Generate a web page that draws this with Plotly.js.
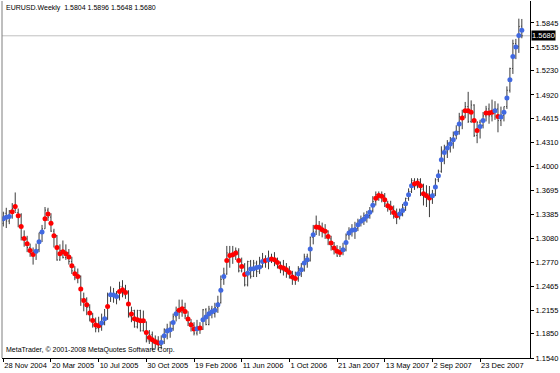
<!DOCTYPE html>
<html><head><meta charset="utf-8">
<script src="https://cdn.plot.ly/plotly-3.0.1.min.js"></script>
<style>html,body{margin:0;padding:0;background:#fff;}#chart{width:560px;height:373px;}</style>
</head><body><div id="chart"></div>
<script>
const symbol = "EURUSD.Weekly";
const copyright = "MetaTrader, \u00a9 2001-2008 MetaQuotes Software Corp.";
const firstWeekUTC = [2004, 10, 28]; // 28 Nov 2004, one bar per week

const opens = [
1.3270,1.3400,1.3300,1.3430,1.3460,1.3410,1.3380,1.3090,1.3070,1.2960,
1.2880,1.2900,1.2930,1.3150,1.3200,1.3440,1.3350,1.3170,1.3110,1.2800,
1.2920,1.2830,1.2890,1.2780,1.2660,1.2570,1.2590,1.2300,1.2300,1.2190,
1.2040,1.2000,1.1920,1.1960,1.2000,1.2050,1.2350,1.2340,1.2370,1.2320,
1.2460,1.2350,1.2400,1.2070,1.2150,1.1940,1.2150,1.1890,1.2000,1.1760,
1.1840,1.1740,1.1770,1.1700,1.1750,1.1910,1.1880,1.1920,1.2070,1.2150,
1.2130,1.2190,1.2080,1.1990,1.1960,1.1860,1.1940,1.1910,1.2160,1.1970,
1.2170,1.2110,1.2190,1.2250,1.2550,1.2620,1.2890,1.2860,1.2880,1.2920,
1.2660,1.2740,1.2480,1.2780,1.2590,1.2760,1.2650,1.2720,1.2810,1.2800,
1.2810,1.2800,1.2790,1.2760,1.2670,1.2710,1.2660,1.2620,1.2560,1.2560,
1.2690,1.2670,1.2840,1.2790,1.3090,1.3160,1.3240,1.3220,1.3160,1.3170,
1.3070,1.2970,1.2940,1.2850,1.2920,1.2930,1.3120,1.3180,1.3180,1.3210,
1.3300,1.3330,1.3370,1.3370,1.3430,1.3550,1.3640,1.3630,1.3620,1.3530,
1.3480,1.3450,1.3360,1.3390,1.3390,1.3470,1.3590,1.3680,1.3820,1.3750,
1.3830,1.3710,1.3610,1.3650,1.3630,1.3650,1.3830,1.3940,1.4210,1.4200,
1.4300,1.4300,1.4400,1.4450,1.4640,1.4650,1.4770,1.4580,1.4790,1.4400,
1.4570,1.4530,1.4650,1.4740,1.4650,1.4690,1.4740,1.4590,1.4660,1.4770,
1.4980,1.5260,1.5580,1.5540,1.5804];
const highs = [
1.3420,1.3470,1.3440,1.3530,1.3667,1.3460,1.3400,1.3180,1.3110,1.3010,
1.2960,1.3010,1.3150,1.3250,1.3480,1.3470,1.3400,1.3200,1.3120,1.3000,
1.3050,1.3000,1.2940,1.2840,1.2720,1.2690,1.2600,1.2380,1.2320,1.2230,
1.2120,1.2060,1.2070,1.2110,1.2170,1.2380,1.2460,1.2440,1.2400,1.2520,
1.2540,1.2480,1.2410,1.2200,1.2160,1.2160,1.2160,1.2150,1.2010,1.1900,
1.1880,1.1830,1.1820,1.1830,1.1920,1.1980,1.2010,1.2110,1.2200,1.2290,
1.2290,1.2250,1.2140,1.2040,1.2000,1.2030,1.2000,1.2170,1.2180,1.2210,
1.2210,1.2250,1.2340,1.2600,1.2700,1.2980,1.2980,1.2980,1.2960,1.2950,
1.2830,1.2760,1.2790,1.2800,1.2800,1.2790,1.2840,1.2890,1.2860,1.2920,
1.2880,1.2900,1.2830,1.2780,1.2800,1.2760,1.2720,1.2660,1.2650,1.2720,
1.2760,1.2880,1.2880,1.3100,1.3250,1.3370,1.3300,1.3280,1.3260,1.3180,
1.3110,1.3030,1.2990,1.2980,1.3020,1.3140,1.3220,1.3260,1.3290,1.3330,
1.3370,1.3410,1.3430,1.3480,1.3620,1.3680,1.3680,1.3680,1.3660,1.3560,
1.3560,1.3500,1.3460,1.3460,1.3520,1.3600,1.3720,1.3850,1.3850,1.3850,
1.3850,1.3780,1.3760,1.3750,1.3700,1.3850,1.3960,1.4260,1.4280,1.4340,
1.4380,1.4450,1.4530,1.4690,1.4730,1.4830,1.4960,1.4850,1.4800,1.4580,
1.4600,1.4700,1.4780,1.4810,1.4860,1.4840,1.4810,1.4770,1.4770,1.5030,
1.5270,1.5630,1.5640,1.5900,1.5896];
const lows = [
1.3230,1.3210,1.3260,1.3330,1.3420,1.3220,1.3050,1.2970,1.2900,1.2840,
1.2740,1.2800,1.2900,1.3030,1.3200,1.3300,1.3160,1.2960,1.2790,1.2790,
1.2820,1.2800,1.2740,1.2620,1.2540,1.2500,1.2210,1.2140,1.2090,1.2010,
1.1930,1.1870,1.1870,1.1890,1.1960,1.2030,1.2260,1.2250,1.2230,1.2280,
1.2320,1.2300,1.2060,1.2000,1.1930,1.1920,1.1880,1.1880,1.1740,1.1720,
1.1640,1.1660,1.1640,1.1650,1.1720,1.1780,1.1800,1.1890,1.2010,1.2040,
1.2070,1.2040,1.1950,1.1880,1.1830,1.1830,1.1850,1.1900,1.1960,1.1960,
1.2050,1.2060,1.2120,1.2240,1.2480,1.2610,1.2700,1.2750,1.2800,1.2640,
1.2640,1.2460,1.2460,1.2560,1.2580,1.2580,1.2620,1.2700,1.2700,1.2680,
1.2760,1.2720,1.2690,1.2630,1.2600,1.2570,1.2560,1.2480,1.2480,1.2520,
1.2580,1.2650,1.2700,1.2780,1.3000,1.3120,1.3110,1.3090,1.3070,1.2990,
1.2920,1.2870,1.2840,1.2840,1.2860,1.2910,1.3060,1.3100,1.3070,1.3170,
1.3230,1.3250,1.3280,1.3330,1.3410,1.3500,1.3560,1.3540,1.3480,1.3420,
1.3380,1.3330,1.3260,1.3320,1.3360,1.3430,1.3560,1.3660,1.3700,1.3720,
1.3620,1.3500,1.3480,1.3350,1.3520,1.3620,1.3800,1.3920,1.4030,1.4110,
1.4180,1.4230,1.4350,1.4410,1.4480,1.4620,1.4560,1.4560,1.4380,1.4300,
1.4360,1.4490,1.4580,1.4550,1.4580,1.4600,1.4440,1.4520,1.4580,1.4740,
1.4950,1.5190,1.5380,1.5460,1.5648];
const closes = [
1.3400,1.3300,1.3430,1.3460,1.3410,1.3380,1.3090,1.3070,1.2960,1.2880,
1.2900,1.2930,1.3150,1.3200,1.3440,1.3350,1.3170,1.3110,1.2800,1.2920,
1.2830,1.2890,1.2780,1.2660,1.2570,1.2590,1.2300,1.2300,1.2190,1.2040,
1.2000,1.1920,1.1960,1.2000,1.2050,1.2350,1.2340,1.2370,1.2320,1.2460,
1.2350,1.2400,1.2070,1.2150,1.1940,1.2150,1.1890,1.2000,1.1760,1.1840,
1.1740,1.1770,1.1700,1.1750,1.1910,1.1880,1.1920,1.2070,1.2150,1.2130,
1.2190,1.2080,1.1990,1.1960,1.1860,1.1940,1.1910,1.2160,1.1970,1.2170,
1.2110,1.2190,1.2250,1.2550,1.2620,1.2890,1.2860,1.2880,1.2920,1.2660,
1.2740,1.2480,1.2780,1.2590,1.2760,1.2650,1.2720,1.2810,1.2800,1.2810,
1.2800,1.2790,1.2760,1.2670,1.2710,1.2660,1.2620,1.2560,1.2560,1.2690,
1.2670,1.2840,1.2790,1.3090,1.3160,1.3240,1.3220,1.3160,1.3170,1.3070,
1.2970,1.2940,1.2850,1.2920,1.2930,1.3120,1.3180,1.3180,1.3210,1.3300,
1.3330,1.3370,1.3370,1.3430,1.3550,1.3640,1.3630,1.3620,1.3530,1.3480,
1.3450,1.3360,1.3390,1.3390,1.3470,1.3590,1.3680,1.3820,1.3750,1.3830,
1.3710,1.3610,1.3650,1.3630,1.3650,1.3830,1.3940,1.4210,1.4200,1.4300,
1.4300,1.4400,1.4450,1.4640,1.4650,1.4770,1.4580,1.4790,1.4400,1.4570,
1.4530,1.4650,1.4740,1.4650,1.4690,1.4740,1.4590,1.4660,1.4770,1.4980,
1.5260,1.5580,1.5540,1.5800,1.5680];
// indicator dots (smoothed Heiken-Ashi style value) and their colour state
const dotValues = [
1.3330,1.3347,1.3359,1.3420,1.3488,1.3368,1.3231,1.3077,1.3009,1.2922,
1.2871,1.2910,1.3034,1.3159,1.3330,1.3390,1.3270,1.3111,1.2961,1.2880,
1.2906,1.2880,1.2838,1.2726,1.2623,1.2588,1.2427,1.2280,1.2225,1.2118,
1.2023,1.1964,1.1955,1.1990,1.2045,1.2203,1.2353,1.2349,1.2331,1.2396,
1.2418,1.2383,1.2234,1.2105,1.2045,1.2032,1.2019,1.2019,1.1869,1.1805,
1.1775,1.1749,1.1733,1.1740,1.1826,1.1887,1.1903,1.1997,1.2109,1.2152,
1.2173,1.2139,1.2041,1.1968,1.1912,1.1916,1.1925,1.2032,1.2067,1.2109,
1.2135,1.2152,1.2225,1.2409,1.2588,1.2794,1.2858,1.2867,1.2889,1.2794,
1.2717,1.2613,1.2628,1.2684,1.2687,1.2703,1.2709,1.2781,1.2794,1.2803,
1.2812,1.2803,1.2768,1.2709,1.2696,1.2675,1.2640,1.2581,1.2563,1.2623,
1.2675,1.2761,1.2803,1.2941,1.3124,1.3223,1.3218,1.3189,1.3167,1.3102,
1.3018,1.2953,1.2910,1.2897,1.2932,1.3025,1.3146,1.3180,1.3189,1.3253,
1.3298,1.3324,1.3362,1.3413,1.3503,1.3593,1.3628,1.3617,1.3574,1.3497,
1.3467,1.3411,1.3368,1.3390,1.3436,1.3523,1.3638,1.3754,1.3780,1.3789,
1.3754,1.3651,1.3625,1.3596,1.3625,1.3737,1.3882,1.4088,1.4182,1.4238,
1.4290,1.4345,1.4431,1.4547,1.4624,1.4718,1.4718,1.4696,1.4593,1.4464,
1.4516,1.4593,1.4688,1.4688,1.4696,1.4718,1.4644,1.4637,1.4696,1.4881,
1.5116,1.5415,1.5536,1.5685,1.5750];
const dotState = ("bbb"+"rrrrrrrr"+"bbb"+"rrrrrrrrrrrrrrrrrrr"+"bb"+"r"+"bbb"+"rrrrrrrrrrrrrr"+
  "bbbbbb"+"rrrrrr"+"b"+"r"+"bbbbbbbb"+"rrrrrrr"+"bbbbbb"+"r"+"b"+"rrrrrrrrr"+"bbbbbb"+
  "rrrrrrrrr"+"bbbbbbbbbbb"+"rrrrrrrr"+"bbbbb"+"rrrrrr"+"bbbbbbbbbb"+"rrrrrr"+"bb"+"rrr"+
  "b"+"r"+"bbbbbbbb").split("");

const tickDates = ["2004-11-28","2005-03-20","2005-07-10","2005-10-30","2006-02-19","2006-06-11",
  "2006-10-01","2007-01-21","2007-05-13","2007-09-02","2007-12-23"];
const tickLabels = ["28 Nov 2004","20 Mar 2005","10 Jul 2005","30 Oct 2005","19 Feb 2006","11 Jun 2006",
  "1 Oct 2006","21 Jan 2007","13 May 2007","2 Sep 2007","23 Dec 2007"];
const yTickVals = [1.1540,1.1850,1.2155,1.2465,1.2770,1.3080,1.3385,1.3695,1.4000,1.4310,1.4615,1.4920,1.5230,1.5535,1.5845];
const yTickLabels = ["1.1540","1.1850","1.2155","1.2465","1.2770","1.3080","1.3385","1.3695","1.4000","1.4310","1.4615","1.4920","1.5230","1.5535","1.5845"];

if (dotState.length !== opens.length) throw new Error("state length " + dotState.length + " vs " + opens.length);

const DAY = 86400000;
const t0 = Date.UTC(firstWeekUTC[0], firstWeekUTC[1], firstWeekUTC[2]);
function iso(ms){ return new Date(ms).toISOString().replace('T',' ').slice(0,19); }
const weeks = opens.map((_, i) => iso(t0 + i * 7 * DAY));

const plotW = 528, pxPerWeek = 2.98, firstPx = 1.3;
const xStart = t0 - (firstPx / pxPerWeek) * 7 * DAY;
const xEnd = xStart + (plotW / pxPerWeek) * 7 * DAY;

const last = opens.length - 1;
const f4 = v => v.toFixed(4);
const header = symbol + "  " + f4(opens[last]) + " " + f4(highs[last]) + " " + f4(lows[last]) + " " + f4(closes[last]);

const barColor = '#3c3c3c';
const traces = [
  {
    type: 'ohlc', x: weeks, open: opens, high: highs, low: lows, close: closes,
    increasing: {line: {color: barColor, width: 1}},
    decreasing: {line: {color: barColor, width: 1}},
    tickwidth: 0.3, hoverinfo: 'skip', showlegend: false
  },
  {
    type: 'scatter', mode: 'markers', x: weeks, y: dotValues,
    marker: {size: 5, color: dotState.map(s => s === 'b' ? '#4169e1' : '#ff0000'), line: {width: 0}},
    hoverinfo: 'skip', showlegend: false
  }
];

const font = {family: '"Liberation Sans", Arial, sans-serif', size: 7.5, color: '#000'};
const layout = {
  width: 560, height: 373,
  margin: {l: 2, r: 30, t: 1, b: 15, pad: 0},
  paper_bgcolor: '#ffffff', plot_bgcolor: '#ffffff',
  showlegend: false, hovermode: false,
  font: font,
  xaxis: {
    type: 'date', range: [iso(xStart), iso(xEnd)],
    rangeslider: {visible: false},
    showgrid: false, zeroline: false,
    showline: true, linecolor: '#000', linewidth: 1,
    ticks: 'outside', ticklen: 3, tickcolor: '#000', tickwidth: 1,
    tickmode: 'array', tickvals: tickDates, ticktext: tickLabels,
    ticklabelposition: 'outside right', tickangle: 0, automargin: false,
    tickfont: font, fixedrange: true
  },
  yaxis: {
    side: 'right', range: [1.1540, 1.6127],
    showgrid: false, zeroline: false,
    showline: true, linecolor: '#000', linewidth: 1,
    ticks: 'outside', ticklen: 3, tickcolor: '#000', tickwidth: 1,
    tickmode: 'array', tickvals: yTickVals, ticktext: yTickLabels,
    automargin: false, tickfont: font, fixedrange: true
  },
  shapes: [
    {type: 'line', xref: 'paper', yref: 'paper', x0: 0, x1: 0, y0: 0, y1: 1, line: {color: '#7f7f7f', width: 1}},
    {type: 'line', xref: 'paper', yref: 'y', x0: 0, x1: 1, y0: closes[last], y1: closes[last], line: {color: '#c0c0c0', width: 1}, layer: 'below'}
  ],
  annotations: [
    {xref: 'paper', yref: 'paper', x: 0, y: 1, xanchor: 'left', yanchor: 'top', xshift: 2, yshift: -1,
     text: header, showarrow: false, font: {family: font.family, size: 7, color: '#000'}},
    {xref: 'paper', yref: 'paper', x: 0, y: 0, xanchor: 'left', yanchor: 'bottom', xshift: 2, yshift: 2,
     text: copyright, showarrow: false, font: {family: font.family, size: 7, color: '#000'}},
    {xref: 'paper', yref: 'y', x: 1, y: closes[last], xanchor: 'left', yanchor: 'middle', xshift: 1,
     text: f4(closes[last]), showarrow: false, bgcolor: '#000', borderpad: 0,
     font: {family: font.family, size: 7.5, color: '#fff'}}
  ]
};

Plotly.newPlot('chart', traces, layout, {staticPlot: true, displayModeBar: false});
</script></body></html>
